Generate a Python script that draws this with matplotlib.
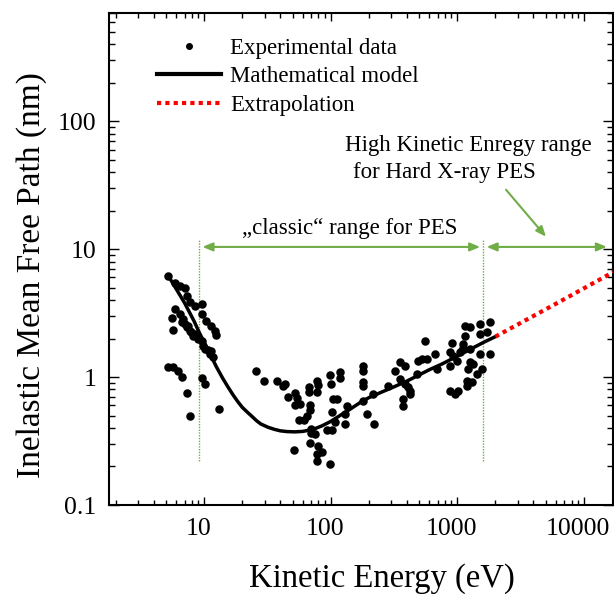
import matplotlib
matplotlib.use("Agg")
import matplotlib.pyplot as plt
from matplotlib.lines import Line2D
from matplotlib.ticker import LogLocator, NullFormatter
from matplotlib.transforms import ScaledTranslation

plt.rcParams['font.family'] = ['Liberation Serif', 'DejaVu Serif']

# experimental IMFP values (kinetic energy in eV, IMFP in nm)
energy_exp = [
    5.19, 5.87, 6.43, 7.03, 7.26, 7.71, 8.44, 9.54, 9.54, 10.4, 11.4, 12.2, 12.5,
    5.87, 5.52, 5.69, 6.43, 6.82, 7.03, 7.26, 7.71, 7.94, 8.44, 8.97, 9.54, 9.82,
    10.1, 10.8, 11.4, 11.1, 11.8, 6.63, 7.48, 8.18,
    5.19, 5.69, 6.22, 6.70, 9.54, 10.1, 7.26, 13.1, 7.71,
    25.9, 29.8, 37.3, 43.4, 42.1, 46.1, 52.1, 53.7, 52.1, 57.1, 67.3, 67.3, 77.8,
    79.2, 77.4, 98.6, 118.3, 118.3, 100.4, 68.5, 68.5, 65.4, 56.1, 61.4, 69.7,
    69.7, 75.0, 68.5, 79.6, 51.2, 85.9, 78.5, 77.8, 98.6, 104.7, 111.4, 133.6,
    102.8, 129.5, 108, 129.5, 92.8, 102.8,
    181, 181, 181, 181, 181, 217, 192, 221, 282, 322, 352, 386, 352, 386, 410,
    423, 374, 374, 423, 492, 478, 556, 523, 573, 667, 875, 930, 1050, 989, 875,
    687, 903, 1114, 1114, 1260, 1150, 1260, 1510, 1814, 1150, 1708, 1510, 1510,
    1814, 1260, 1337, 1222, 1560, 1422, 1186, 1300, 1186, 875, 1018, 959,
]
imfp_exp = [
    6.19, 5.48, 5.17, 5.01, 4.32, 3.83, 3.61, 3.72, 3.11, 2.75, 2.52, 2.30, 2.14,
    3.40, 2.89, 2.33, 3.11, 2.84, 2.59, 2.44, 2.30, 2.23, 2.17, 1.98, 1.92, 1.76,
    1.66, 1.63, 1.60, 1.51, 1.44, 2.67, 2.52, 2.10,
    1.20, 1.20, 1.12, 1.00, 0.99, 0.88, 0.744, 0.558, 0.499,
    1.11, 0.935, 0.924, 0.882, 0.855, 0.693, 0.745, 0.683, 0.608, 0.615, 0.840,
    0.768, 0.935, 0.863, 0.758, 1.04, 1.10, 0.987, 0.882, 0.608, 0.550, 0.494,
    0.464, 0.464, 0.395, 0.364, 0.357, 0.308, 0.288, 0.270, 0.258, 0.250, 0.222,
    0.209, 0.673, 0.673, 0.591, 0.529, 0.514, 0.442, 0.428, 0.384, 0.384,
    1.225, 1.12, 0.908, 0.855, 0.653, 0.736, 0.514, 0.430, 0.855, 1.11, 1.30,
    1.225, 0.965, 0.882, 0.830, 0.782, 0.673, 0.597, 0.736, 1.34, 1.055, 1.92,
    1.38, 1.38, 1.51, 1.56, 1.47, 1.56, 1.34, 1.225, 1.155, 1.86, 1.81, 1.70,
    1.66, 2.52, 2.44, 2.59, 2.67, 2.10, 2.23, 2.17, 1.51, 1.51, 1.30, 1.26,
    1.155, 1.155, 1.055, 0.935, 0.908, 0.855, 0.782, 0.782, 0.736,
]

# model curve
model_energy = [5.2, 6.0, 7.0, 8.3, 9.2, 10.5, 11.5, 12.5, 14, 15.5, 17, 18.5, 20,
                22, 24, 26, 28, 32, 36, 40, 45, 52, 60, 68, 75, 85, 100, 120,
                140, 170, 200, 250, 300, 400, 500, 600, 750, 900, 1100, 1300,
                1600, 2000]
model_imfp = [6.2, 4.9, 3.8, 2.75, 2.2, 1.7, 1.42, 1.2, 0.98, 0.83, 0.72, 0.64,
              0.58, 0.53, 0.49, 0.455, 0.43, 0.405, 0.39, 0.38, 0.375, 0.373,
              0.376, 0.385, 0.395, 0.415, 0.45, 0.505, 0.555, 0.63, 0.69, 0.76,
              0.82, 0.93, 1.04, 1.14, 1.26, 1.38, 1.53, 1.67, 1.86, 2.07]

# extrapolation towards hard X-ray energies
extrap_energy = [2000, 6500, 17000]
extrap_imfp = [2.07, 3.9, 6.6]

# range markers
classic_range = [9.1, 1600]
arrow_level = 10.4
green = '#70AD47'

fig = plt.figure(figsize=(6.14, 5.94), dpi=100)
ax = fig.add_axes([0.1775, 0.1498, 0.8209, 0.8283])
ax.set_xscale('log')
ax.set_yscale('log')
ax.set_xlim(1.77, 17000)
ax.set_ylim(0.1, 700)

ax.scatter(energy_exp, imfp_exp, s=26, color='black', zorder=3)
ax.plot(model_energy, model_imfp, color='black', lw=2.5, zorder=4)
ax.plot(extrap_energy, extrap_imfp, color='red', lw=3, linestyle=(0, (1, 1)), zorder=4)

for e in classic_range:
    ax.plot([e, e], [0.22, 12.0], color=green, lw=1, linestyle=(0, (1, 1)), zorder=2)

arrow_kw = dict(arrowstyle='<|-|>,head_length=0.6,head_width=0.25', color=green,
                lw=1.5, shrinkA=0, shrinkB=0)
ax.annotate('', xy=(9.7, arrow_level), xytext=(1515, arrow_level), arrowprops=arrow_kw)
ax.annotate('', xy=(1706, arrow_level), xytext=(15200, arrow_level), arrowprops=arrow_kw)
ax.annotate('', xy=(5020, 12.5), xytext=(2427, 29.1),
            arrowprops=dict(arrowstyle='-|>,head_length=0.6,head_width=0.25',
                            color=green, lw=1.5, shrinkA=0, shrinkB=0))

ax.text(142, 14.4, '\u201eclassic\u201c range for PES', fontsize=16.5,
        ha='center', va='center')
ax.text(129.4, 64.5, 'High Kinetic Enregy range', fontsize=16.5, ha='left', va='center')
ax.text(150, 39.8, 'for Hard X-ray PES', fontsize=16.5, ha='left', va='center')

ax.set_xticks([10, 100, 1000, 10000])
ax.set_xticklabels(['10', '100', '1000', '10000'])
ax.set_yticks([0.1, 1, 10, 100])
ax.set_yticklabels(['0.1', '1', '10', '100'])
ax.xaxis.set_minor_locator(LogLocator(base=10, subs=range(2, 10), numticks=20))
ax.yaxis.set_minor_locator(LogLocator(base=10, subs=range(2, 10), numticks=20))
ax.xaxis.set_minor_formatter(NullFormatter())
ax.yaxis.set_minor_formatter(NullFormatter())
ax.tick_params(which='both', direction='in', top=True, right=True, labelsize=18.5,
               width=1)
ax.tick_params(axis='x', which='major', length=5.5, pad=9)
ax.tick_params(axis='x', which='minor', length=3.6)
ax.tick_params(axis='y', which='major', length=7, pad=9)
ax.tick_params(axis='y', which='minor', length=4.5)
for sp in ax.spines.values():
    sp.set_linewidth(1.5)

# nudge the energy labels a little to the left
shift = ScaledTranslation(-0.055, 0, fig.dpi_scale_trans)
for lab in ax.get_xticklabels():
    lab.set_transform(lab.get_transform() + shift)

ax.set_xlabel('Kinetic Energy (eV)', fontsize=23.5)
ax.set_ylabel('Inelastic Mean Free Path (nm)', fontsize=24)
ax.xaxis.set_label_coords(0.542, -0.118)
ax.yaxis.set_label_coords(-0.123, 0.467)

handles = [
    Line2D([], [], marker='o', markersize=4, color='black', linestyle='none'),
    Line2D([], [], color='black', lw=3),
    Line2D([], [], color='red', lw=3, linestyle=(0, (1, 1))),
]
labels = ['Experimental data', 'Mathematical model', 'Extrapolation']
ax.legend(handles, labels, loc='upper left', bbox_to_anchor=(0.095, 0.95),
          frameon=False, fontsize=16.5, handlelength=2.8, handletextpad=0.4,
          labelspacing=0.33, borderpad=0, borderaxespad=0)

fig.savefig('out.png', dpi=100)
